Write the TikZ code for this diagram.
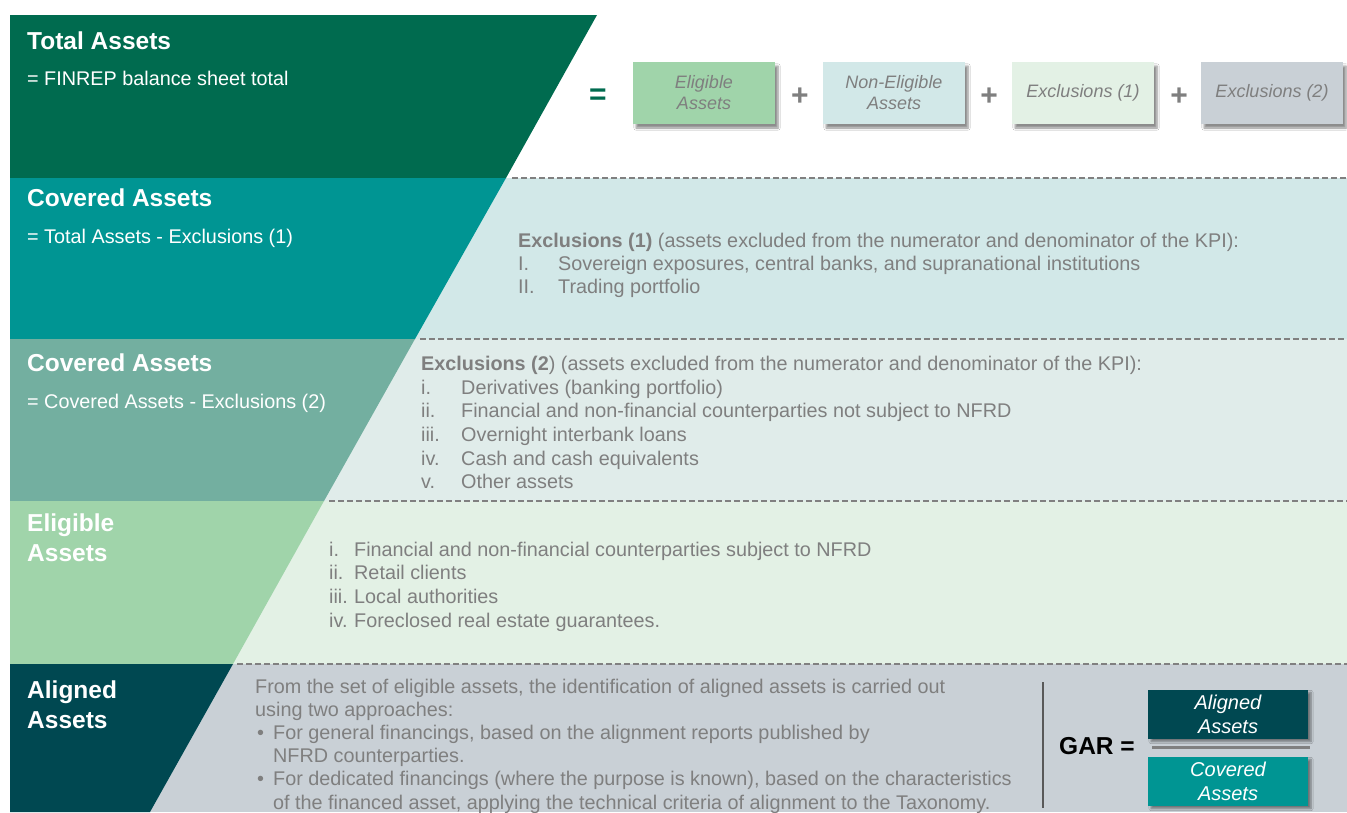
\documentclass[tikz,border=0pt]{standalone}
\usepackage{fontspec}
\setmainfont{Liberation Sans}
\usetikzlibrary{shadows.blur}
\definecolor{cDkGreen}{HTML}{006B4F}
\definecolor{cTeal}{HTML}{009593}
\definecolor{cGreyTeal}{HTML}{73AFA0}
\definecolor{cLtGreen}{HTML}{A0D4AA}
\definecolor{cDkTeal}{HTML}{004851}
\definecolor{bgTwo}{HTML}{D2E8E8}
\definecolor{bgThree}{HTML}{E0ECEA}
\definecolor{bgFour}{HTML}{E3F1E5}
\definecolor{bgFive}{HTML}{C9D0D6}
\definecolor{txtGrey}{HTML}{7F7F7F}
\definecolor{lineGrey}{HTML}{808080}
\begin{document}
\begin{tikzpicture}[x=1pt,y=-1pt,
  title/.style={anchor=base west,inner sep=0pt,text=white,font=\fontsize{24.5}{29}\selectfont\bfseries},
  sub/.style={anchor=base west,inner sep=0pt,text=white,font=\fontsize{19.8}{23.7}\selectfont},
  body/.style={anchor=base west,inner sep=0pt,text=txtGrey,font=\fontsize{19.8}{23.7}\selectfont},
  sep/.style={draw=lineGrey,line width=2pt,dash pattern=on 6pt off 3pt},
  topbox/.style={rectangle,minimum width=142pt,minimum height=62pt,inner sep=2pt,align=center,
     text=txtGrey,font=\fontsize{18}{21}\selectfont\itshape,
     blur shadow={shadow xshift=3pt,shadow yshift=-4pt,shadow blur steps=6,shadow opacity=45}},
  gbox/.style={rectangle,minimum width=160pt,minimum height=49pt,inner sep=1pt,align=center,
     text=white,font=\fontsize{20}{24}\selectfont\itshape,
     blur shadow={shadow xshift=3pt,shadow yshift=-3pt,shadow blur steps=6,shadow opacity=45}},
  op/.style={inner sep=0pt,font=\fontsize{30}{30}\selectfont\bfseries}
]
\useasboundingbox (0,0) rectangle (1347,812);
\fill[white] (0,0) rectangle (1347,812);
% right backgrounds
\fill[bgTwo] (300,178) rectangle (1347,339);
\fill[bgThree] (200,339) rectangle (1347,501);
\fill[bgFour] (150,501) rectangle (1347,664);
\fill[bgFive] (100,664) rectangle (1347,812);
% left bands
\fill[cDkGreen] (10,15) -- (597,15) -- (506,178) -- (10,178) -- cycle;
\fill[cTeal] (10,178) -- (506,178) -- (415,339) -- (10,339) -- cycle;
\fill[cGreyTeal] (10,339) -- (415,339) -- (324,501) -- (10,501) -- cycle;
\fill[cLtGreen] (10,501) -- (324,501) -- (233,664) -- (10,664) -- cycle;
\fill[cDkTeal] (10,664) -- (233,664) -- (150,812) -- (10,812) -- cycle;
% dashed separators
\coordinate (s1a) at (512,178); \coordinate (s1b) at (1347,178);
\coordinate (s2a) at (420,339); \coordinate (s2b) at (1347,339);
\coordinate (s3a) at (329,501); \coordinate (s3b) at (1347,501);
\coordinate (s4a) at (237,664); \coordinate (s4b) at (1347,664);
\draw[sep] (s1a) -- (s1b);
\draw[sep] (s2a) -- (s2b);
\draw[sep] (s3a) -- (s3b);
\draw[sep] (s4a) -- (s4b);
% left titles
\node[title] (t1) at (27,49) {Total Assets};
\node[sub] (t1s) at (27,85) {= FINREP balance sheet total};
\node[title] (t2) at (27,206) {Covered Assets};
\node[sub] (t2s) at (27,243) {= Total Assets - Exclusions (1)};
\node[title] (t3) at (27,371) {Covered Assets};
\node[sub] (t3s) at (27,408) {= Covered Assets - Exclusions (2)};
\node[title] (t4a) at (27,531) {Eligible};
\node[title] (t4b) at (27,561) {Assets};
\node[title] (t5a) at (27,698) {Aligned};
\node[title] (t5b) at (27,728) {Assets};
% top equation
\node[op,text=cDkGreen] (eq) at (598,97) {=};
\node[topbox,fill=cLtGreen] (bElig) at (704,93) {Eligible\\Assets};
\node[op,text=txtGrey] (p1) at (800,97) {+};
\node[topbox,fill=bgTwo] (bNon) at (894,93) {Non-Eligible\\Assets};
\node[op,text=txtGrey] (p2) at (989,97) {+};
\node[topbox,fill=bgFour] (bEx1) at (1083,93) {Exclusions (1)};
\node[op,text=txtGrey] (p3) at (1179,97) {+};
\node[topbox,fill=bgFive] (bEx2) at (1272,93) {Exclusions (2)};
% band 2 text
\node[body] (e1h) at (518,247) {\textbf{Exclusions (1)} (assets excluded from the numerator and denominator of the KPI):};
\node[body] (e1l1) at (518,270) {I.};
\node[body] (e1t1) at (558,270) {Sovereign exposures, central banks, and supranational institutions};
\node[body] (e1l2) at (518,293) {II.};
\node[body] (e1t2) at (558,293) {Trading portfolio};
% band 3 text
\node[body] (e2h) at (421,370) {\textbf{Exclusions (2}) (assets excluded from the numerator and denominator of the KPI):};
\node[body] (e2l1) at (421,394) {i.};
\node[body] (e2t1) at (461,394) {Derivatives (banking portfolio)};
\node[body] (e2l2) at (421,417.7) {ii.};
\node[body] (e2t2) at (461,417.7) {Financial and non-financial counterparties not subject to NFRD};
\node[body] (e2l3) at (421,441.4) {iii.};
\node[body] (e2t3) at (461,441.4) {Overnight interbank loans};
\node[body] (e2l4) at (421,465.1) {iv.};
\node[body] (e2t4) at (461,465.1) {Cash and cash equivalents};
\node[body] (e2l5) at (421,488.8) {v.};
\node[body] (e2t5) at (461,488.8) {Other assets};
% band 4 text
\node[body] (e3l1) at (329,556) {i.};
\node[body] (e3t1) at (354,556) {Financial and non-financial counterparties subject to NFRD};
\node[body] (e3l2) at (329,579.7) {ii.};
\node[body] (e3t2) at (354,579.7) {Retail clients};
\node[body] (e3l3) at (329,603.4) {iii.};
\node[body] (e3t3) at (354,603.4) {Local authorities};
\node[body] (e3l4) at (329,627.1) {iv.};
\node[body] (e3t4) at (354,627.1) {Foreclosed real estate guarantees.};
% band 5 text
\node[body] (a1) at (255,693) {From the set of eligible assets, the identification of aligned assets is carried out};
\node[body] (a2) at (255,716.2) {using two approaches:};
\node[body] (ab1) at (257,739.4) {\textbullet};
\node[body] (a3) at (273,739.4) {For general financings, based on the alignment reports published by};
\node[body] (a4) at (273,762.6) {NFRD counterparties.};
\node[body] (ab2) at (257,785.8) {\textbullet};
\node[body] (a5) at (273,785.8) {For dedicated financings (where the purpose is known), based on the characteristics};
\node[body] (a6) at (273,809) {of the financed asset, applying the technical criteria of alignment to the Taxonomy.};
% GAR formula
\coordinate (vt) at (1043,682); \coordinate (vb) at (1043,808);
\draw[line width=2pt,draw=black!65] (vt) -- (vb);
\node[anchor=base west,inner sep=0pt,font=\fontsize{24.5}{29}\selectfont\bfseries] (gar) at (1059,754) {GAR =};
\node[gbox,fill=cDkTeal] (gAl) at (1228,714) {Aligned\\Assets};
\node[gbox,fill=cTeal] (gCo) at (1228,781) {Covered\\Assets};
\coordinate (fl) at (1152,747); \coordinate (fr) at (1310,747);
\draw[line width=3pt,draw=lineGrey] (fl) -- (fr);
\end{tikzpicture}
\end{document}
